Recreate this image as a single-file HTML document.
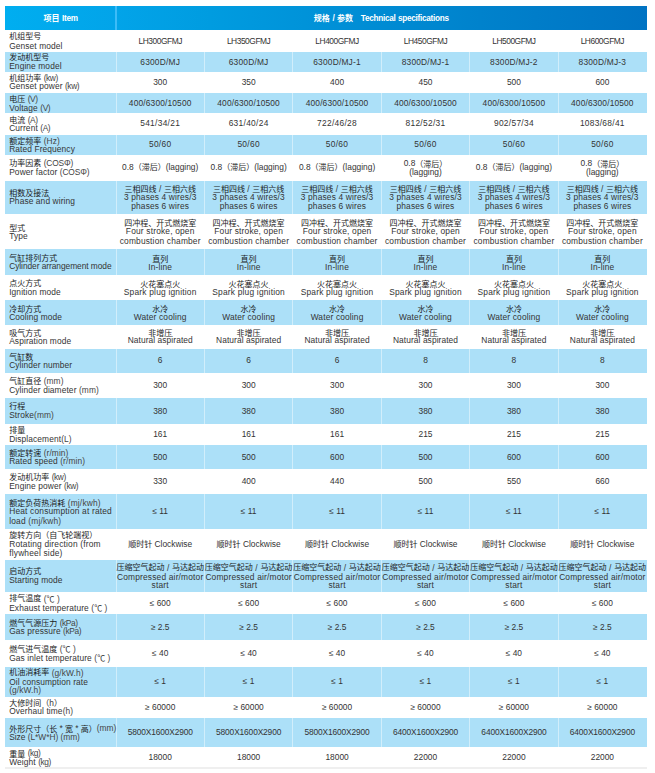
<!DOCTYPE html>
<html><head><meta charset="utf-8"><title>Technical specifications</title>
<style>
html,body{margin:0;padding:0;background:#fff}
body{width:655px;height:773px;position:relative;overflow:hidden;font-family:"Liberation Sans",sans-serif;font-size:8.4px;line-height:9px;color:#343434}
.hd{position:absolute;left:5.2px;top:6.35px;width:641.4px;height:23.85px;background:linear-gradient(90deg,#00aef0 0%,#02a4e9 17%,#009ce0 32%,#0082cc 74%,#0073c3 100%);color:#fff;font-weight:bold;font-size:8.2px;letter-spacing:-.28px;word-spacing:.6px}
.h1,.h2{position:absolute;top:0;height:23.85px;line-height:25.5px;text-align:center;white-space:pre}
.h1{left:0;width:110.8px}
.h2{left:110.8px;width:530.6px}
.r{position:absolute;left:5.2px;width:641.4px}
.b{position:absolute;left:5.2px;width:641.4px;background:#ace0f8}
.l,.d{position:absolute;top:.3px;height:100%;display:flex;flex-direction:column;justify-content:center;white-space:nowrap}
.l{left:4px;letter-spacing:.1px}
.d{width:88.43px;align-items:center;text-align:center}
.l>div,.d>div{position:relative}
.u{color:#444}
.n{letter-spacing:-.4px}
.n2{letter-spacing:-.15px}
.s{position:relative;top:.8px}
.c{display:inline-block;position:relative;font-family:"Liberation Sans","Noto Sans CJK SC",sans-serif;font-size:8px;letter-spacing:0;word-spacing:0;color:#1b1b1b;white-space:nowrap;text-align:left}
.c.t{color:#343434}
.k .c{top:.2px}
.k .c.t{top:0}
.c.hb{color:#fff;top:-.4px}
.sep{position:absolute;top:30.2px;width:1px;height:737.8px;background:rgba(255,255,255,.45)}
.hs{position:absolute;left:115.2px;top:6.35px;width:1.6px;height:23.85px;background:#3dbcf8}
.bt{position:absolute;left:5.2px;top:767.3px;width:641.4px;height:1.4px;background:#efefef}
.d0{left:110.8px}.d1{left:199.23px}.d2{left:287.67px}.d3{left:376.1px}.d4{left:464.53px}.d5{left:552.97px}
</style></head>
<body>
<div class="hd"><div class="h1"><span class="c hb" style="width:16px">项目</span> Item</div><div class="h2"><span class="c hb" style="width:16px">规格</span> / <span class="c hb" style="width:16px">参数</span>   Technical specifications</div></div>
<div class="b" style="top:52px;height:19.9px"></div><div class="b" style="top:93.4px;height:19.8px"></div><div class="b" style="top:134.8px;height:20.1px"></div><div class="b" style="top:180.7px;height:32.9px"></div><div class="b" style="top:249px;height:25.9px"></div><div class="b" style="top:299.8px;height:24.8px"></div><div class="b" style="top:348.6px;height:24.4px"></div><div class="b" style="top:397.9px;height:26px"></div><div class="b" style="top:444.6px;height:24.4px"></div><div class="b" style="top:493.8px;height:34.8px"></div><div class="b" style="top:559.8px;height:32.2px"></div><div class="b" style="top:614.1px;height:25.8px"></div><div class="b" style="top:666.9px;height:29.7px"></div><div class="b" style="top:717.8px;height:29.2px"></div>
<div class="sep" style="left:115.5px"></div><div class="sep" style="left:203.93px"></div><div class="sep" style="left:292.37px"></div><div class="sep" style="left:380.8px"></div><div class="sep" style="left:469.23px"></div><div class="sep" style="left:557.67px"></div>
<div class="r" style="top:29.6px;height:22.55px"><div class="l"><div class="k" style="top:0.55px"><span class="c" style="width:32px;top:-0.4px">机组型号</span></div><div style="top:0.4px">Genset model</div></div><div class="d d0" style="letter-spacing:-0.45px"><div>LH300GFMJ</div></div><div class="d d1" style="letter-spacing:-0.45px"><div>LH350GFMJ</div></div><div class="d d2" style="letter-spacing:-0.45px"><div>LH400GFMJ</div></div><div class="d d3" style="letter-spacing:-0.45px"><div>LH450GFMJ</div></div><div class="d d4" style="letter-spacing:-0.45px"><div>LH500GFMJ</div></div><div class="d d5" style="letter-spacing:-0.45px"><div>LH600GFMJ</div></div></div>
<div class="r" style="top:52.15px;height:19.65px"><div class="l"><div class="k" style="top:0.55px"><span class="c" style="width:40px;top:-0.7px">发动机型号</span></div><div>Engine model</div></div><div class="d d0" style="letter-spacing:0.2px"><div>6300D/MJ</div></div><div class="d d1" style="letter-spacing:0.2px"><div>6300D/MJ</div></div><div class="d d2" style="letter-spacing:0.2px"><div>6300D/MJ-1</div></div><div class="d d3" style="letter-spacing:0.2px"><div>8300D/MJ-1</div></div><div class="d d4" style="letter-spacing:0.2px"><div>8300D/MJ-2</div></div><div class="d d5" style="letter-spacing:0.2px"><div>8300D/MJ-3</div></div></div>
<div class="r" style="top:71.8px;height:21.5px"><div class="l"><div class="k" style="top:0.25px"><span class="c" style="width:32px">机组功率</span> <span class="u n">(kw)</span></div><div style="top:-0.7px">Genset power <span class="u n">(kw)</span></div></div><div class="d d0"><div>300</div></div><div class="d d1"><div>350</div></div><div class="d d2"><div>400</div></div><div class="d d3"><div>450</div></div><div class="d d4"><div>500</div></div><div class="d d5"><div>600</div></div></div>
<div class="r" style="top:93.3px;height:19px"><div class="l"><div class="k" style="top:1.15px"><span class="c" style="width:16px">电压</span> <span class="u n">(V)</span></div><div style="top:0.6px">Voltage <span class="u n">(V)</span></div></div><div class="d d0" style="letter-spacing:0.15px"><div>400/6300/10500</div></div><div class="d d1" style="letter-spacing:0.15px"><div>400/6300/10500</div></div><div class="d d2" style="letter-spacing:0.15px"><div>400/6300/10500</div></div><div class="d d3" style="letter-spacing:0.15px"><div>400/6300/10500</div></div><div class="d d4" style="letter-spacing:0.15px"><div>400/6300/10500</div></div><div class="d d5" style="letter-spacing:0.15px"><div>400/6300/10500</div></div></div>
<div class="r" style="top:112.3px;height:22.8px"><div class="l"><div class="k" style="top:1.05px"><span class="c" style="width:16px">电流</span> <span class="u n">(A)</span></div><div style="top:0.5px">Current <span class="u n">(A)</span></div></div><div class="d d0" style="letter-spacing:0.3px"><div>541/34/21</div></div><div class="d d1" style="letter-spacing:0.3px"><div>631/40/24</div></div><div class="d d2" style="letter-spacing:0.3px"><div>722/46/28</div></div><div class="d d3" style="letter-spacing:0.3px"><div>812/52/31</div></div><div class="d d4" style="letter-spacing:0.3px"><div>902/57/34</div></div><div class="d d5" style="letter-spacing:0.3px"><div>1083/68/41</div></div></div>
<div class="r" style="top:135.1px;height:19.2px"><div class="l"><div class="k" style="top:0.55px"><span class="c" style="width:32px">额定频率</span> <span class="u">(Hz)</span></div><div>Rated Frequency</div></div><div class="d d0" style="letter-spacing:0.3px"><div>50/60</div></div><div class="d d1" style="letter-spacing:0.3px"><div>50/60</div></div><div class="d d2" style="letter-spacing:0.3px"><div>50/60</div></div><div class="d d3" style="letter-spacing:0.3px"><div>50/60</div></div><div class="d d4" style="letter-spacing:0.3px"><div>50/60</div></div><div class="d d5" style="letter-spacing:0.3px"><div>50/60</div></div></div>
<div class="r" style="top:154.3px;height:26.7px"><div class="l"><div class="k" style="top:0.55px"><span class="c" style="width:32px;top:-0.3px">功率因素</span> <span class="u n2">(COSΦ)</span></div><div>Power factor <span class="u n2">(COSΦ)</span></div></div><div class="d d0"><div>0.8<span class="c" style="width:32px">（滞后）</span>(lagging)</div></div><div class="d d1"><div>0.8<span class="c" style="width:32px">（滞后）</span>(lagging)</div></div><div class="d d2"><div>0.8<span class="c" style="width:32px">（滞后）</span>(lagging)</div></div><div class="d d3"><div class="k" style="top:0.55px">0.8<span class="c" style="width:32px">（滞后）</span></div><div>(lagging)</div></div><div class="d d4"><div>0.8<span class="c" style="width:32px">（滞后）</span>(lagging)</div></div><div class="d d5"><div class="k" style="top:0.55px">0.8<span class="c" style="width:32px">（滞后）</span></div><div>(lagging)</div></div></div>
<div class="r" style="top:181px;height:31.3px"><div class="l"><div class="k" style="top:0.55px"><span class="c" style="width:40px">相数及接法</span></div><div>Phase and wiring</div></div><div class="d d0" style="letter-spacing:0.15px"><div class="k" style="top:1.05px"><span class="c" style="width:32px">三相四线</span><span class="s"> / </span><span class="c" style="width:32px">三相六线</span></div><div style="top:0.5px">3 phases 4 wires/3</div><div style="top:0.5px">phases 6 wires</div></div><div class="d d1" style="letter-spacing:0.15px"><div class="k" style="top:1.05px"><span class="c" style="width:32px">三相四线</span><span class="s"> / </span><span class="c" style="width:32px">三相六线</span></div><div style="top:0.5px">3 phases 4 wires/3</div><div style="top:0.5px">phases 6 wires</div></div><div class="d d2" style="letter-spacing:0.15px"><div class="k" style="top:1.05px"><span class="c" style="width:32px">三相四线</span><span class="s"> / </span><span class="c" style="width:32px">三相六线</span></div><div style="top:0.5px">3 phases 4 wires/3</div><div style="top:0.5px">phases 6 wires</div></div><div class="d d3" style="letter-spacing:0.15px"><div class="k" style="top:1.05px"><span class="c" style="width:32px">三相四线</span><span class="s"> / </span><span class="c" style="width:32px">三相六线</span></div><div style="top:0.5px">3 phases 4 wires/3</div><div style="top:0.5px">phases 6 wires</div></div><div class="d d4" style="letter-spacing:0.15px"><div class="k" style="top:1.05px"><span class="c" style="width:32px">三相四线</span><span class="s"> / </span><span class="c" style="width:32px">三相六线</span></div><div style="top:0.5px">3 phases 4 wires/3</div><div style="top:0.5px">phases 6 wires</div></div><div class="d d5" style="letter-spacing:0.15px"><div class="k" style="top:1.05px"><span class="c" style="width:32px">三相四线</span><span class="s"> / </span><span class="c" style="width:32px">三相六线</span></div><div style="top:0.5px">3 phases 4 wires/3</div><div style="top:0.5px">phases 6 wires</div></div></div>
<div class="r" style="top:212.3px;height:37.4px"><div class="l"><div class="k" style="top:1.55px"><span class="c" style="width:16px">型式</span></div><div style="top:1px">Type</div></div><div class="d d0" style="letter-spacing:0.18px"><div class="k" style="top:1.05px"><span class="c" style="width:72px">四冲程、开式燃烧室</span></div><div style="top:0.5px">Four stroke, open</div><div style="top:1.3px">combustion chamber</div></div><div class="d d1" style="letter-spacing:0.18px"><div class="k" style="top:1.05px"><span class="c" style="width:72px">四冲程、开式燃烧室</span></div><div style="top:0.5px">Four stroke, open</div><div style="top:1.3px">combustion chamber</div></div><div class="d d2" style="letter-spacing:0.18px"><div class="k" style="top:1.05px"><span class="c" style="width:72px">四冲程、开式燃烧室</span></div><div style="top:0.5px">Four stroke, open</div><div style="top:1.3px">combustion chamber</div></div><div class="d d3" style="letter-spacing:0.18px"><div class="k" style="top:1.05px"><span class="c" style="width:72px">四冲程、开式燃烧室</span></div><div style="top:0.5px">Four stroke, open</div><div style="top:1.3px">combustion chamber</div></div><div class="d d4" style="letter-spacing:0.18px"><div class="k" style="top:1.05px"><span class="c" style="width:72px">四冲程、开式燃烧室</span></div><div style="top:0.5px">Four stroke, open</div><div style="top:1.3px">combustion chamber</div></div><div class="d d5" style="letter-spacing:0.18px"><div class="k" style="top:1.05px"><span class="c" style="width:72px">四冲程、开式燃烧室</span></div><div style="top:0.5px">Four stroke, open</div><div style="top:1.3px">combustion chamber</div></div></div>
<div class="r" style="top:249.7px;height:24.8px"><div class="l" style="letter-spacing:-0.06px"><div class="k" style="top:0.55px"><span class="c" style="width:48px">气缸排列方式</span></div><div>Cylinder arrangement mode</div></div><div class="d d0" style="letter-spacing:0.15px"><div class="k" style="top:1.05px"><span class="c" style="width:16px">直列</span></div><div style="top:0.5px">In-line</div></div><div class="d d1" style="letter-spacing:0.15px"><div class="k" style="top:1.05px"><span class="c" style="width:16px">直列</span></div><div style="top:0.5px">In-line</div></div><div class="d d2" style="letter-spacing:0.15px"><div class="k" style="top:1.05px"><span class="c" style="width:16px">直列</span></div><div style="top:0.5px">In-line</div></div><div class="d d3" style="letter-spacing:0.15px"><div class="k" style="top:1.05px"><span class="c" style="width:16px">直列</span></div><div style="top:0.5px">In-line</div></div><div class="d d4" style="letter-spacing:0.15px"><div class="k" style="top:1.05px"><span class="c" style="width:16px">直列</span></div><div style="top:0.5px">In-line</div></div><div class="d d5" style="letter-spacing:0.15px"><div class="k" style="top:1.05px"><span class="c" style="width:16px">直列</span></div><div style="top:0.5px">In-line</div></div></div>
<div class="r" style="top:274.5px;height:25.7px"><div class="l"><div class="k" style="top:0.55px"><span class="c" style="width:32px">点火方式</span></div><div>Ignition mode</div></div><div class="d d0" style="letter-spacing:0.2px"><div class="k" style="top:1.05px"><span class="c" style="width:40px">火花塞点火</span></div><div style="top:0.5px">Spark plug ignition</div></div><div class="d d1" style="letter-spacing:0.2px"><div class="k" style="top:1.05px"><span class="c" style="width:40px">火花塞点火</span></div><div style="top:0.5px">Spark plug ignition</div></div><div class="d d2" style="letter-spacing:0.2px"><div class="k" style="top:1.05px"><span class="c" style="width:40px">火花塞点火</span></div><div style="top:0.5px">Spark plug ignition</div></div><div class="d d3" style="letter-spacing:0.2px"><div class="k" style="top:1.05px"><span class="c" style="width:40px">火花塞点火</span></div><div style="top:0.5px">Spark plug ignition</div></div><div class="d d4" style="letter-spacing:0.2px"><div class="k" style="top:1.05px"><span class="c" style="width:40px">火花塞点火</span></div><div style="top:0.5px">Spark plug ignition</div></div><div class="d d5" style="letter-spacing:0.2px"><div class="k" style="top:1.05px"><span class="c" style="width:40px">火花塞点火</span></div><div style="top:0.5px">Spark plug ignition</div></div></div>
<div class="r" style="top:300.2px;height:23.8px"><div class="l"><div class="k" style="top:1.05px"><span class="c" style="width:32px">冷却方式</span></div><div style="top:0.5px">Cooling mode</div></div><div class="d d0" style="letter-spacing:0.15px"><div class="k" style="top:0.95px"><span class="c" style="width:16px">水冷</span></div><div style="top:0.4px">Water cooling</div></div><div class="d d1" style="letter-spacing:0.15px"><div class="k" style="top:0.95px"><span class="c" style="width:16px">水冷</span></div><div style="top:0.4px">Water cooling</div></div><div class="d d2" style="letter-spacing:0.15px"><div class="k" style="top:0.95px"><span class="c" style="width:16px">水冷</span></div><div style="top:0.4px">Water cooling</div></div><div class="d d3" style="letter-spacing:0.15px"><div class="k" style="top:0.95px"><span class="c" style="width:16px">水冷</span></div><div style="top:0.4px">Water cooling</div></div><div class="d d4" style="letter-spacing:0.15px"><div class="k" style="top:0.95px"><span class="c" style="width:16px">水冷</span></div><div style="top:0.4px">Water cooling</div></div><div class="d d5" style="letter-spacing:0.15px"><div class="k" style="top:0.95px"><span class="c" style="width:16px">水冷</span></div><div style="top:0.4px">Water cooling</div></div></div>
<div class="r" style="top:324px;height:25px"><div class="l"><div class="k" style="top:0.55px"><span class="c" style="width:32px">吸气方式</span></div><div>Aspiration mode</div></div><div class="d d0" style="letter-spacing:0.08px"><div class="k" style="top:0.55px"><span class="c" style="width:24px;top:0.8px">非增压</span></div><div style="top:-0.4px">Natural aspirated</div></div><div class="d d1" style="letter-spacing:0.08px"><div class="k" style="top:0.55px"><span class="c" style="width:24px;top:0.8px">非增压</span></div><div style="top:-0.4px">Natural aspirated</div></div><div class="d d2" style="letter-spacing:0.08px"><div class="k" style="top:0.55px"><span class="c" style="width:24px;top:0.8px">非增压</span></div><div style="top:-0.4px">Natural aspirated</div></div><div class="d d3" style="letter-spacing:0.08px"><div class="k" style="top:0.55px"><span class="c" style="width:24px;top:0.8px">非增压</span></div><div style="top:-0.4px">Natural aspirated</div></div><div class="d d4" style="letter-spacing:0.08px"><div class="k" style="top:0.55px"><span class="c" style="width:24px;top:0.8px">非增压</span></div><div style="top:-0.4px">Natural aspirated</div></div><div class="d d5" style="letter-spacing:0.08px"><div class="k" style="top:0.55px"><span class="c" style="width:24px;top:0.8px">非增压</span></div><div style="top:-0.4px">Natural aspirated</div></div></div>
<div class="r" style="top:349px;height:23.2px"><div class="l"><div class="k" style="top:0.55px"><span class="c" style="width:24px">气缸数</span></div><div>Cylinder number</div></div><div class="d d0"><div>6</div></div><div class="d d1"><div>6</div></div><div class="d d2"><div>6</div></div><div class="d d3"><div>8</div></div><div class="d d4"><div>8</div></div><div class="d d5"><div>8</div></div></div>
<div class="r" style="top:372.2px;height:26.4px"><div class="l"><div class="k" style="top:0.55px"><span class="c" style="width:32px">气缸直径</span> <span class="u">(mm)</span></div><div>Cylinder diameter <span class="u">(mm)</span></div></div><div class="d d0"><div>300</div></div><div class="d d1"><div>300</div></div><div class="d d2"><div>300</div></div><div class="d d3"><div>300</div></div><div class="d d4"><div>300</div></div><div class="d d5"><div>300</div></div></div>
<div class="r" style="top:398.6px;height:24.6px"><div class="l"><div class="k" style="top:0.55px"><span class="c" style="width:16px;top:-0.5px">行程</span></div><div>Stroke<span class="u">(mm)</span></div></div><div class="d d0"><div>380</div></div><div class="d d1"><div>380</div></div><div class="d d2"><div>380</div></div><div class="d d3"><div>380</div></div><div class="d d4"><div>380</div></div><div class="d d5"><div>380</div></div></div>
<div class="r" style="top:423.2px;height:22.1px"><div class="l"><div class="k" style="top:0.55px"><span class="c" style="width:16px">排量</span></div><div>Displacement<span class="u">(L)</span></div></div><div class="d d0"><div>161</div></div><div class="d d1"><div>161</div></div><div class="d d2"><div>161</div></div><div class="d d3"><div>215</div></div><div class="d d4"><div>215</div></div><div class="d d5"><div>215</div></div></div>
<div class="r" style="top:445.3px;height:23.2px"><div class="l"><div class="k" style="top:0.55px"><span class="c" style="width:32px">额定转速</span> <span class="u">(r/min)</span></div><div>Rated speed <span class="u">(r/min)</span></div></div><div class="d d0"><div>500</div></div><div class="d d1"><div>500</div></div><div class="d d2"><div>600</div></div><div class="d d3"><div>500</div></div><div class="d d4"><div>600</div></div><div class="d d5"><div>600</div></div></div>
<div class="r" style="top:468.5px;height:26px"><div class="l"><div class="k" style="top:0.55px"><span class="c" style="width:40px;top:-0.3px">发动机功率</span> <span class="u n">(kw)</span></div><div>Engine power <span class="u n">(kw)</span></div></div><div class="d d0"><div>330</div></div><div class="d d1"><div>400</div></div><div class="d d2"><div>440</div></div><div class="d d3"><div>500</div></div><div class="d d4"><div>550</div></div><div class="d d5"><div>660</div></div></div>
<div class="r" style="top:494.5px;height:33.6px"><div class="l" style="letter-spacing:0.18px"><div class="k" style="top:0.55px"><span class="c" style="width:56px">额定负荷热消耗</span> <span class="u">(mj/kwh)</span></div><div style="top:0.3px">Heat consumption at rated</div><div style="top:0.8px">load <span class="u">(mj/kwh)</span></div></div><div class="d d0"><div>≤ 11</div></div><div class="d d1"><div>≤ 11</div></div><div class="d d2"><div>≤ 11</div></div><div class="d d3"><div>≤ 11</div></div><div class="d d4"><div>≤ 11</div></div><div class="d d5"><div>≤ 11</div></div></div>
<div class="r" style="top:528.1px;height:32.05px"><div class="l" style="letter-spacing:0.19px"><div class="k" style="top:0.55px"><span class="c" style="width:88px;top:-0.3px">旋转方向（自飞轮端视）</span></div><div>Rotating direction (from</div><div>flywheel side)</div></div><div class="d d0"><div><span class="c" style="width:24px">顺时针</span> Clockwise</div></div><div class="d d1"><div><span class="c" style="width:24px">顺时针</span> Clockwise</div></div><div class="d d2"><div><span class="c" style="width:24px">顺时针</span> Clockwise</div></div><div class="d d3"><div><span class="c" style="width:24px">顺时针</span> Clockwise</div></div><div class="d d4"><div><span class="c" style="width:24px">顺时针</span> Clockwise</div></div><div class="d d5"><div><span class="c" style="width:24px">顺时针</span> Clockwise</div></div></div>
<div class="r" style="top:560.15px;height:31.25px"><div class="l"><div class="k" style="top:0.55px"><span class="c" style="width:32px;top:-0.4px">启动方式</span></div><div style="top:-0.3px">Starting mode</div></div><div class="d d0" style="letter-spacing:0.18px"><div class="k" style="top:0.55px"><span class="c" style="width:48px">压缩空气起动</span><span class="s"> / </span><span class="c" style="width:32px">马达起动</span></div><div style="top:1px">Compressed air/motor</div><div style="top:0.5px">start</div></div><div class="d d1" style="letter-spacing:0.18px"><div class="k" style="top:0.55px"><span class="c" style="width:48px">压缩空气起动</span><span class="s"> / </span><span class="c" style="width:32px">马达起动</span></div><div style="top:1px">Compressed air/motor</div><div style="top:0.5px">start</div></div><div class="d d2" style="letter-spacing:0.18px"><div class="k" style="top:0.55px"><span class="c" style="width:48px">压缩空气起动</span><span class="s"> / </span><span class="c" style="width:32px">马达起动</span></div><div style="top:1px">Compressed air/motor</div><div style="top:0.5px">start</div></div><div class="d d3" style="letter-spacing:0.18px"><div class="k" style="top:0.55px"><span class="c" style="width:48px">压缩空气起动</span><span class="s"> / </span><span class="c" style="width:32px">马达起动</span></div><div style="top:1px">Compressed air/motor</div><div style="top:0.5px">start</div></div><div class="d d4" style="letter-spacing:0.18px"><div class="k" style="top:0.55px"><span class="c" style="width:48px">压缩空气起动</span><span class="s"> / </span><span class="c" style="width:32px">马达起动</span></div><div style="top:1px">Compressed air/motor</div><div style="top:0.5px">start</div></div><div class="d d5" style="letter-spacing:0.18px"><div class="k" style="top:0.55px"><span class="c" style="width:48px">压缩空气起动</span><span class="s"> / </span><span class="c" style="width:32px">马达起动</span></div><div style="top:1px">Compressed air/motor</div><div style="top:0.5px">start</div></div></div>
<div class="r" style="top:591.4px;height:22.95px"><div class="l"><div class="k" style="top:0.55px"><span class="c" style="width:32px;top:-0.6px">排气温度</span> <span class="u">(<span class="c t" style="width:8px">℃</span> )</span></div><div class="k" style="top:0.55px">Exhaust temperature <span class="u">(<span class="c t" style="width:8px">℃</span> )</span></div></div><div class="d d0"><div>≤ 600</div></div><div class="d d1"><div>≤ 600</div></div><div class="d d2"><div>≤ 600</div></div><div class="d d3"><div>≤ 600</div></div><div class="d d4"><div>≤ 600</div></div><div class="d d5"><div>≤ 600</div></div></div>
<div class="r" style="top:614.35px;height:25.05px"><div class="l"><div class="k" style="top:0.55px"><span class="c" style="width:48px">燃气气源压力</span> <span class="u n">(kPa)</span></div><div>Gas pressure <span class="u n">(kPa)</span></div></div><div class="d d0"><div>≥ 2.5</div></div><div class="d d1"><div>≥ 2.5</div></div><div class="d d2"><div>≥ 2.5</div></div><div class="d d3"><div>≥ 2.5</div></div><div class="d d4"><div>≥ 2.5</div></div><div class="d d5"><div>≥ 2.5</div></div></div>
<div class="r" style="top:639.4px;height:27.9px"><div class="l"><div class="k" style="top:0.55px"><span class="c" style="width:48px">燃气进气温度</span> <span class="u">(<span class="c t" style="width:8px">℃</span> )</span></div><div class="k" style="top:0.55px">Gas inlet temperature <span class="u">(<span class="c t" style="width:8px">℃</span> )</span></div></div><div class="d d0"><div>≤ 40</div></div><div class="d d1"><div>≤ 40</div></div><div class="d d2"><div>≤ 40</div></div><div class="d d3"><div>≤ 40</div></div><div class="d d4"><div>≤ 40</div></div><div class="d d5"><div>≤ 40</div></div></div>
<div class="r" style="top:667.3px;height:28.5px"><div class="l"><div class="k" style="top:0.55px"><span class="c" style="width:40px;top:-0.7px">机油消耗率</span> <span class="u">(g/kW.h)</span></div><div style="top:0.5px">Oil consumption rate</div><div><span class="u">(g/kW.h)</span></div></div><div class="d d0"><div>≤ 1</div></div><div class="d d1"><div>≤ 1</div></div><div class="d d2"><div>≤ 1</div></div><div class="d d3"><div>≤ 1</div></div><div class="d d4"><div>≤ 1</div></div><div class="d d5"><div>≤ 1</div></div></div>
<div class="r" style="top:695.8px;height:22.25px"><div class="l"><div class="k" style="top:0.55px"><span class="c" style="width:40px">大修时间（</span>h<span class="c" style="width:8px">）</span></div><div>Overhaul time<span class="u">(h)</span></div></div><div class="d d0"><div>≥ 60000</div></div><div class="d d1"><div>≥ 60000</div></div><div class="d d2"><div>≥ 60000</div></div><div class="d d3"><div>≥ 60000</div></div><div class="d d4"><div>≥ 60000</div></div><div class="d d5"><div>≥ 60000</div></div></div>
<div class="r" style="top:718.05px;height:28.2px"><div class="l" style="letter-spacing:-0.03px"><div class="k" style="top:1.05px"><span class="c" style="width:48px">外形尺寸（长</span> * <span class="c" style="width:8px">宽</span> * <span class="c" style="width:16px">高）</span><span class="u">(mm)</span></div><div style="top:0.5px">Size <span class="u">(L*W*H)</span> <span class="u">(mm)</span></div></div><div class="d d0" style="letter-spacing:-0.14px"><div>5800X1600X2900</div></div><div class="d d1" style="letter-spacing:-0.14px"><div>5800X1600X2900</div></div><div class="d d2" style="letter-spacing:-0.14px"><div>5800X1600X2900</div></div><div class="d d3" style="letter-spacing:-0.14px"><div>6400X1600X2900</div></div><div class="d d4" style="letter-spacing:-0.14px"><div>6400X1600X2900</div></div><div class="d d5" style="letter-spacing:-0.14px"><div>6400X1600X2900</div></div></div>
<div class="r" style="top:746.25px;height:21.75px"><div class="l"><div class="k" style="top:0.55px"><span class="c" style="width:16px;top:0.8px">重量</span> <span class="u n">(kg)</span></div><div style="top:0.55px">Weight <span class="u n">(kg)</span></div></div><div class="d d0"><div>18000</div></div><div class="d d1"><div>18000</div></div><div class="d d2"><div>18000</div></div><div class="d d3"><div>22000</div></div><div class="d d4"><div>22000</div></div><div class="d d5"><div>22000</div></div></div>
<div class="hs"></div><div class="bt"></div>
</body></html>
